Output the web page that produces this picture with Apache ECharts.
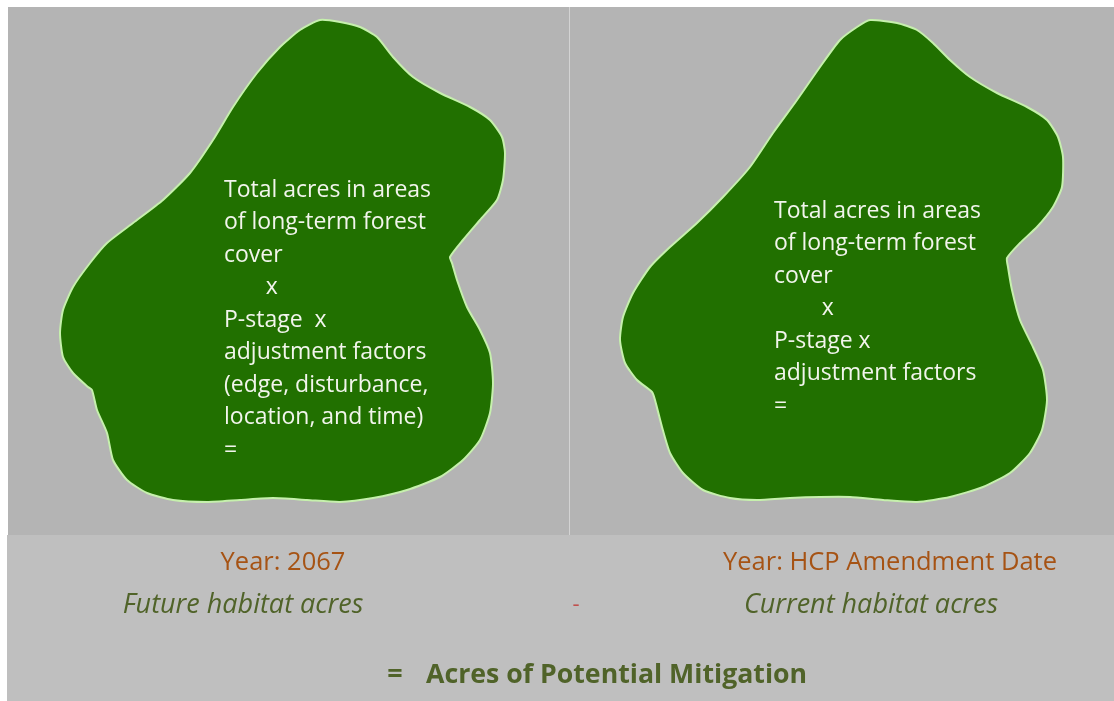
<!DOCTYPE html>
<html>
<head>
    <meta charset="utf-8">
    <title>Acres of Potential Mitigation</title>
    <script src="https://cdn.jsdelivr.net/npm/echarts@6.0.0/dist/echarts.min.js"></script>
    <style>
        html, body { margin: 0; padding: 0; background: #fff; }
        #main { width: 1114px; height: 701px; }
    </style>
</head>
<body>
    <div id="main"></div>
    <script>
        // outline of the habitat patch, in picture units (x right, y down)
        var leftOutline = [
            [320, 20], [340, 22], [360, 27], [377, 37], [393, 57], [413, 77], [440, 93],
            [470, 107], [490, 120], [502, 137], [505, 153], [503, 180], [497, 200],
            [480, 220], [463, 240], [450, 257], [452, 263], [457, 280], [467, 307],
            [480, 330], [490, 353], [493, 383], [490, 413], [480, 440], [463, 460],
            [440, 477], [407, 490], [373, 498], [340, 502], [307, 500], [273, 498],
            [240, 500], [207, 502], [173, 500], [147, 493], [127, 480], [113, 460],
            [107, 433], [97, 410], [92, 390], [88, 387], [73, 373], [63, 357],
            [60, 333], [63, 310], [73, 287], [90, 263], [107, 243], [133, 223],
            [163, 200], [190, 173], [213, 140], [233, 107], [257, 73], [280, 47], [300, 30]
        ];
        var rightOutline = [
            [870, 20], [897, 23], [917, 30], [933, 43], [950, 60], [970, 77], [997, 93],
            [1027, 107], [1047, 120], [1058, 137], [1063, 157], [1062, 187], [1053, 207],
            [1037, 227], [1020, 243], [1007, 258], [1008, 267], [1012, 290], [1020, 320],
            [1033, 347], [1043, 370], [1047, 400], [1042, 430], [1030, 453], [1010, 473],
            [983, 487], [950, 497], [917, 502], [883, 500], [850, 497], [820, 497],
            [790, 498], [757, 500], [730, 498], [703, 490], [683, 473], [670, 453],
            [662, 427], [655, 400], [652, 392], [637, 380], [625, 363], [620, 340],
            [623, 317], [633, 293], [650, 267], [670, 247], [697, 223], [723, 197],
            [750, 167], [773, 133], [797, 100], [820, 67], [840, 40], [857, 27]
        ];

        var leftLines = [
            'Total acres in areas',
            'of long-term forest',
            'cover',
            '       x',
            'P-stage  x',
            'adjustment factors',
            '(edge, disturbance,',
            'location, and time)',
            '='
        ];
        var rightLines = [
            'Total acres in areas',
            'of long-term forest',
            'cover',
            '        x',
            'P-stage x',
            'adjustment factors',
            '='
        ];
        var yearLabels = ['Year: 2067', 'Year: HCP Amendment Date'];
        var habitatLabels = ['Future habitat acres', 'Current habitat acres'];
        var resultLabel = 'Acres of Potential Mitigation';

        var W = 1114, H = 701;
        var FONT = '"Open Sans", "Noto Sans", sans-serif';

        var myChart = echarts.init(document.getElementById('main'), null, { renderer: 'canvas' });

        function blobSeries(name, outline) {
            return {
                name: name,
                type: 'custom',
                coordinateSystem: 'cartesian2d',
                data: outline,
                silent: true,
                z: 5,
                renderItem: function (params, api) {
                    if (params.dataIndex !== 0) {
                        return;
                    }
                    var pts = outline.map(function (p) {
                        return api.coord(p);
                    });
                    return {
                        type: 'polygon',
                        shape: { points: pts, smooth: 0.2 },
                        style: {
                            fill: '#217000',
                            stroke: '#c6f0ad',
                            lineWidth: 2
                        }
                    };
                }
            };
        }

        function textLines(lines, x, y0, step) {
            var out = [];
            for (var i = 0; i < lines.length; i++) {
                out.push({
                    type: 'text',
                    x: x,
                    y: y0 + i * step,
                    z: 100,
                    silent: true,
                    style: {
                        text: lines[i],
                        font: '23px ' + FONT,
                        fill: '#f2f5ec',
                        textAlign: 'left',
                        textVerticalAlign: 'middle'
                    }
                });
            }
            return out;
        }

        var graphics = [
            // top panel
            { type: 'rect', z: 0, silent: true, shape: { x: 8, y: 7, width: W - 8, height: 528 }, style: { fill: '#b4b4b4' } },
            // bottom panel
            { type: 'rect', z: 0, silent: true, shape: { x: 7, y: 535, width: W - 7, height: H - 535 }, style: { fill: '#bfbfbf' } },
            // divider
            { type: 'line', z: 1, silent: true, shape: { x1: 569.5, y1: 7, x2: 569.5, y2: 535 }, style: { stroke: '#d3d3d3', lineWidth: 1 } },
            { type: 'text', z: 100, x: 283, y: 563, style: { text: yearLabels[0], font: '25.5px ' + FONT, fill: '#a65314', textAlign: 'center', textVerticalAlign: 'middle' } },
            { type: 'text', z: 100, x: 890, y: 563, style: { text: yearLabels[1], font: '25.5px ' + FONT, fill: '#a65314', textAlign: 'center', textVerticalAlign: 'middle' } },
            { type: 'text', z: 100, x: 243, y: 605, style: { text: habitatLabels[0], font: 'italic 27px ' + FONT, fill: '#506329', textAlign: 'center', textVerticalAlign: 'middle' } },
            { type: 'text', z: 100, x: 871, y: 605, style: { text: habitatLabels[1], font: 'italic 27px ' + FONT, fill: '#506329', textAlign: 'center', textVerticalAlign: 'middle' } },
            { type: 'text', z: 100, x: 576, y: 605, style: { text: '-', font: '22px ' + FONT, fill: '#c0504d', textAlign: 'center', textVerticalAlign: 'middle' } },
            { type: 'text', z: 100, x: 395, y: 675, style: { text: '=', font: 'bold 27px ' + FONT, fill: '#506329', textAlign: 'center', textVerticalAlign: 'middle' } },
            { type: 'text', z: 100, x: 426, y: 675, style: { text: resultLabel, font: 'bold 26.7px ' + FONT, fill: '#506329', textAlign: 'left', textVerticalAlign: 'middle' } }
        ];
        graphics = graphics.concat(textLines(leftLines, 224, 190, 32.5));
        graphics = graphics.concat(textLines(rightLines, 774, 211, 32.5));

        var option = {
            backgroundColor: '#ffffff',
            animation: false,
            grid: { left: 0, right: 0, top: 0, bottom: 0 },
            xAxis: {
                type: 'value',
                min: 0,
                max: W,
                show: false
            },
            yAxis: {
                type: 'value',
                min: 0,
                max: H,
                inverse: true,
                show: false
            },
            graphic: graphics,
            series: [
                blobSeries('Future habitat', leftOutline),
                blobSeries('Current habitat', rightOutline)
            ]
        };
        myChart.setOption(option);
    </script>
</body>
</html>
